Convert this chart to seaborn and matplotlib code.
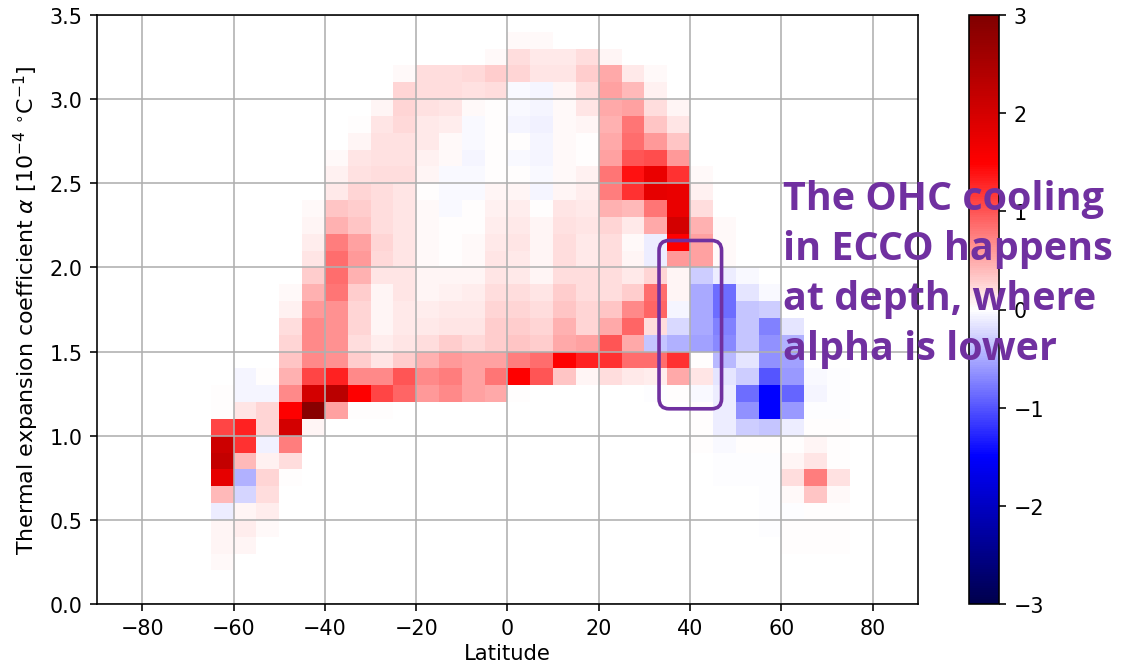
import numpy as np
import pandas as pd
import matplotlib
matplotlib.use('Agg')
import matplotlib.pyplot as plt
import seaborn as sns
from matplotlib.patches import FancyBboxPatch
from matplotlib.transforms import IdentityTransform

# latitude bins (left edge, deg) and alpha bins (lower edge, 1e-4 / degC)
lat_bins = [-65, -60, -55, -50, -45, -40, -35, -30, -25, -20, -15, -10, -5, 0,
            5, 10, 15, 20, 25, 30, 35, 40, 45, 50, 55, 60, 65, 70]
alpha_bins = [3.3, 3.2, 3.1, 3.0, 2.9, 2.8, 2.7, 2.6, 2.5, 2.4, 2.3, 2.2, 2.1, 2.0, 1.9, 1.8,
              1.7, 1.6, 1.5, 1.4, 1.3, 1.2, 1.1, 1.0, 0.9, 0.8, 0.7, 0.6, 0.5, 0.4, 0.3, 0.2]

# OHC change per (alpha, latitude) bin (rows = alpha_bins, 0 = empty)
ohc_change = [
    [0, 0, 0, 0, 0, 0, 0, 0, 0, 0, 0, 0, 0, .04, .04, 0, 0, 0, 0, 0, 0, 0, 0, 0, 0, 0, 0, 0],
    [0, 0, 0, 0, 0, 0, 0, 0, 0, 0, 0, 0, .03, .20, .12, .12, .20, .05, 0, 0, 0, 0, 0, 0, 0, 0, 0, 0],
    [0, 0, 0, 0, 0, 0, 0, 0, .04, .20, .20, .22, .30, .25, .15, .15, .30, .50, .12, .03, 0, 0, 0, 0, 0, 0, 0, 0],
    [0, 0, 0, 0, 0, 0, 0, 0, .25, .20, .20, .18, .20, -.04, -.06, .05, .20, .55, .40, .08, 0, 0, 0, 0, 0, 0, 0, 0],
    [0, 0, 0, 0, 0, 0, 0, .05, .25, .18, .15, .04, .01, -.04, -.05, .03, .15, .50, .55, .20, .05, 0, 0, 0, 0, 0, 0, 0],
    [0, 0, 0, 0, 0, 0, .02, .15, .22, .12, .10, -.04, .01, -.05, -.08, .04, .05, .45, .80, .35, .15, 0, 0, 0, 0, 0, 0, 0],
    [0, 0, 0, 0, 0, 0, .05, .18, .18, .12, .04, -.04, .01, .01, -.06, .04, .02, .50, .85, .60, .35, 0, 0, 0, 0, 0, 0, 0],
    [0, 0, 0, 0, 0, .04, .15, .18, .18, .08, .04, -.05, .01, -.03, -.06, .03, .02, .55, 1.00, 1.05, .60, 0, 0, 0, 0, 0, 0, 0],
    [0, 0, 0, 0, 0, .08, .18, .20, .20, .05, -.03, -.03, .02, .01, -.04, .03, .08, .80, 1.40, 1.75, 1.20, .04, 0, 0, 0, 0, 0, 0],
    [0, 0, 0, 0, 0, .12, .25, .20, .15, .02, -.04, -.03, .05, .05, -.05, .05, .10, .75, 1.20, 1.80, 1.75, .08, 0, 0, 0, 0, 0, 0],
    [0, 0, 0, 0, .03, .35, .30, .20, .15, .03, -.03, .01, .08, .10, .01, .15, .12, .45, .40, .80, 1.75, .20, 0, 0, 0, 0, 0, 0],
    [0, 0, 0, 0, .05, .45, .35, .20, .15, .03, .02, .02, .10, .12, .05, .18, .15, .25, .12, .50, 2.00, .45, .03, 0, 0, 0, 0, 0],
    [0, 0, 0, 0, .10, .75, .55, .25, .15, .03, .02, .03, .12, .15, .06, .20, .12, .20, .04, -.10, 1.50, .55, .04, 0, 0, 0, 0, 0],
    [0, 0, 0, 0, .15, .85, .60, .22, .15, .03, .02, .04, .15, .12, .07, .20, .12, .20, .05, -.10, .60, .55, .03, 0, 0, 0, 0, 0],
    [0, 0, 0, 0, .30, .85, .45, .15, .15, .05, .05, .06, .15, .12, .05, .20, .20, .20, .12, .25, .05, -.30, -.10, -.04, 0, 0, 0, 0],
    [0, 0, 0, .03, .45, .80, .30, .07, .15, .06, .08, .10, .20, .20, .15, .30, .20, .20, .30, .85, .05, -.50, -.85, -.15, -.03, 0, 0, 0],
    [0, 0, 0, .08, .60, .65, .25, .05, .12, .10, .12, .12, .25, .25, .20, .35, .25, .35, .70, .90, -.05, -.50, -.85, -.35, -.30, 0, 0, 0],
    [0, 0, 0, .20, .70, .65, .25, .07, .12, .12, .15, .15, .30, .30, .25, .45, .25, .50, .90, .20, -.22, -.50, -.75, -.35, -.75, -.15, 0, 0],
    [0, 0, 0, .25, .70, .65, .20, .10, .15, .20, .30, .22, .30, .35, .30, .50, .55, 1.00, .50, -.35, -.45, -.55, -.70, -.35, -.65, -.45, 0, 0],
    [0, 0, 0, .35, .70, .65, .30, .15, .30, .45, .60, .55, .55, .75, .85, 1.50, 1.30, 1.20, .85, .85, 1.20, .01, -.40, -.15, -.65, -.55, 0, 0],
    [0, -.05, .02, .45, 1.10, 1.30, .70, .70, 1.00, .70, .75, .55, .80, 1.50, 1.00, .35, .07, .20, .12, .10, .50, .15, -.15, -.30, -1.00, -.60, -.03, -.02],
    [.02, -.05, -.05, .70, 2.00, 2.30, 1.50, 1.10, .90, .60, .70, .55, .50, .02, 0, 0, 0, 0, 0, -.02, .01, -.03, -.10, -.85, -1.50, -.90, -.05, -.02],
    [.02, .15, .25, 1.50, 2.90, .55, .02, .02, 0, 0, 0, 0, 0, 0, 0, 0, 0, 0, 0, 0, 0, .01, -.10, -.65, -1.50, -.60, -.02, -.02],
    [1.10, 1.30, .25, 2.00, .05, 0, 0, 0, 0, 0, 0, 0, 0, 0, 0, 0, 0, 0, 0, 0, 0, .02, -.10, -.30, -.35, -.10, .02, .01],
    [2.10, 1.20, -.08, .75, 0, 0, 0, 0, 0, 0, 0, 0, 0, 0, 0, 0, 0, 0, 0, 0, 0, .02, -.04, .01, .01, .02, .05, .01],
    [2.20, .40, .08, .20, 0, 0, 0, 0, 0, 0, 0, 0, 0, 0, 0, 0, 0, 0, 0, 0, 0, 0, -.02, -.02, -.01, .05, .15, .01],
    [1.80, -.45, .25, .02, 0, 0, 0, 0, 0, 0, 0, 0, 0, 0, 0, 0, 0, 0, 0, 0, 0, 0, -.02, -.02, -.01, .20, .75, .18],
    [.40, -.25, .20, 0, 0, 0, 0, 0, 0, 0, 0, 0, 0, 0, 0, 0, 0, 0, 0, 0, 0, 0, 0, 0, -.02, .03, .35, .04],
    [-.10, .05, .10, 0, 0, 0, 0, 0, 0, 0, 0, 0, 0, 0, 0, 0, 0, 0, 0, 0, 0, 0, 0, 0, -.02, -.01, .01, .01],
    [.05, .10, .04, 0, 0, 0, 0, 0, 0, 0, 0, 0, 0, 0, 0, 0, 0, 0, 0, 0, 0, 0, 0, 0, -.02, .01, .01, .01],
    [.06, .06, 0, 0, 0, 0, 0, 0, 0, 0, 0, 0, 0, 0, 0, 0, 0, 0, 0, 0, 0, 0, 0, 0, 0, .01, .01, .01],
    [.03, 0, 0, 0, 0, 0, 0, 0, 0, 0, 0, 0, 0, 0, 0, 0, 0, 0, 0, 0, 0, 0, 0, 0, 0, 0, 0, 0],
]

x_ticks = [-80, -60, -40, -20, 0, 20, 40, 60, 80]
y_ticks = [0.0, 0.5, 1.0, 1.5, 2.0, 2.5, 3.0, 3.5]
cbar_ticks = [-3, -2, -1, 0, 1, 2, 3]

note_lines = ['The OHC cooling', 'in ECCO happens', 'at depth, where', 'alpha is lower']
box_lat = (33.2, 46.9)
box_alpha = (1.16, 2.16)
purple = '#7030A0'

# put the bins on the full 5 deg x 0.1 grid of the plot (-90..90, 0..3.5), empty bins blank
df = pd.DataFrame(ohc_change, index=[round(a * 10) for a in alpha_bins], columns=lat_bins)
df = df.reindex(index=list(range(34, -1, -1)), columns=list(range(-90, 90, 5)))
df = df.replace(0, np.nan)


def to_x(lat):
    return (lat + 90) / 5


def to_y(alpha):
    return (3.5 - alpha) * 10


plt.rcParams['font.size'] = 10.3
W, H, DPI = 1125, 663, 145
fig = plt.figure(figsize=(W / DPI, H / DPI), dpi=DPI)
ax = fig.add_axes([96.7 / W, 1 - 605 / H, (918.3 - 96.7) / W, (605 - 16) / H])
cax = fig.add_axes([969.3 / W, 1 - 605 / H, 30 / W, (605 - 16) / H])

sns.heatmap(df, cmap='seismic', vmin=-3, vmax=3, ax=ax, cbar_ax=cax,
            xticklabels=False, yticklabels=False, cbar_kws={'ticks': cbar_ticks})

ax.set_xticks([to_x(v) for v in x_ticks])
ax.set_xticklabels([str(v).replace('-', '\u2212') for v in x_ticks])
ax.set_yticks([to_y(v) for v in y_ticks])
ax.set_yticklabels([f'{v:.1f}' for v in y_ticks], rotation=0)
ax.tick_params(length=3.5, width=0.8, direction='out', left=True, bottom=True)
ax.grid(True, color='#b0b0b0', linewidth=0.8)
for s in ax.spines.values():
    s.set_visible(True)
    s.set_linewidth(0.8)
    s.set_color('black')

ax.set_xlabel('Latitude', fontsize=10.5, labelpad=2.5)
ax.set_ylabel(r'Thermal expansion coefficient $\alpha$ [$10^{-4}$ $^{\circ}$C$^{-1}$]', fontsize=11)

cb = ax.collections[0].colorbar
cb.outline.set_linewidth(0.8)
cb.outline.set_edgecolor('black')
cb.ax.tick_params(length=3.5, width=0.8)

# rounded box around the cooling region
x0, y0 = ax.transData.transform((to_x(box_lat[0]), to_y(box_alpha[0])))
x1, y1 = ax.transData.transform((to_x(box_lat[1]), to_y(box_alpha[1])))
box = FancyBboxPatch((x0, y0), x1 - x0, y1 - y0, boxstyle='round,pad=0,rounding_size=10',
                     fill=False, edgecolor=purple, linewidth=1.8,
                     transform=IdentityTransform(), clip_on=False)
fig.add_artist(box)

for i, line in enumerate(note_lines):
    fig.text(783 / W, 1 - (210 + 50 * i) / H, line, fontsize=19.6, fontweight='bold',
             color=purple, family='Open Sans', ha='left', va='baseline')

fig.savefig('out.png', dpi=DPI)
